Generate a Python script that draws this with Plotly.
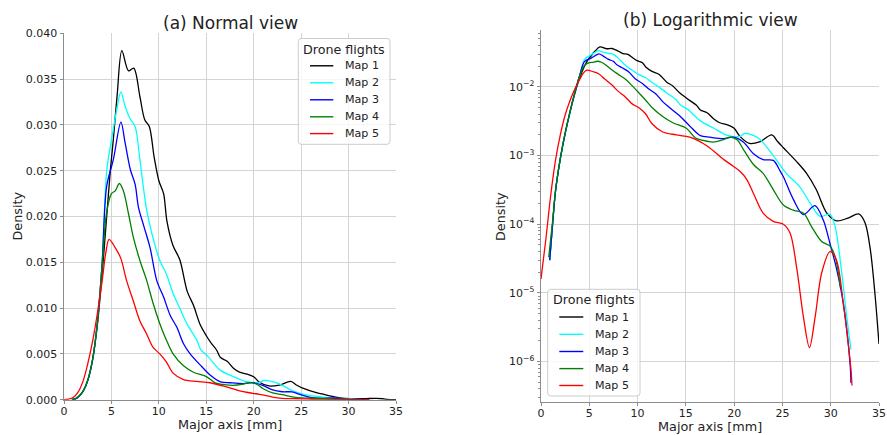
import plotly.graph_objects as go

# ---------------- data ----------------
map_names = ["Map 1", "Map 2", "Map 3", "Map 4", "Map 5"]
map_colors = ["#000000", "#00ffff", "#0000ff", "#008000", "#ff0000"]
legend_title = "Drone flights"

x_map1 = [0.9, 1.2, 1.5, 2.0, 2.5, 3.0, 3.5, 4.0, 4.5, 4.9, 5.2, 5.6, 6.1, 6.8, 7.35, 8.0, 8.5, 9.0, 9.5, 10.0,
          10.5, 10.85, 11.5, 12.2, 13.0, 13.65, 14.35, 15.05, 15.5, 16.1, 16.5, 17.2, 17.9, 18.5, 19.3, 20.0, 20.6,
          21.6, 22.7, 23.9, 24.5, 25.1, 26.6, 27.5, 28.5, 29.6, 30.6, 31.8, 32.9, 33.55, 34.1, 34.6, 35.0]
d_map1 = [3.0e-5, 1.0e-4, 3.0e-4, 9.0e-4, 2.1e-3, 4.3e-3, 8.0e-3, 0.0135, 0.0200, 0.0252, 0.0284, 0.0332, 0.0381,
          0.0359, 0.0362, 0.0331, 0.0306, 0.0298, 0.0265, 0.0239, 0.0225, 0.0195, 0.0168, 0.0153, 0.0118, 0.0103,
          0.0082, 0.0069, 0.0062, 0.0054, 0.0046, 0.0042, 0.0034, 0.0030, 0.0028, 0.0025, 0.0019, 0.0015, 0.0016,
          0.0020, 0.0016, 0.0013, 7.8e-4, 5.5e-4, 3.2e-4, 1.45e-4, 1.12e-4, 1.23e-4, 1.41e-4, 1.05e-4, 4.3e-5,
          9e-6, 1.8e-6]

x_map2 = [0.9, 1.2, 1.5, 2.0, 2.5, 3.0, 3.5, 4.0, 4.5, 5.0, 5.55, 6.0, 6.45, 6.95, 7.5, 8.0, 8.7, 9.4, 10.1, 10.8,
          11.5, 12.2, 12.95, 14.0, 14.4, 15.2, 16.5, 17.9, 19.3, 20.6, 21.1, 22.5, 24.05, 25.4, 26.8, 27.9, 28.9,
          29.9, 30.45, 31.1, 31.65, 32.1]
d_map2 = [3.0e-5, 1.0e-4, 3.0e-4, 9.0e-4, 2.1e-3, 4.3e-3, 8.2e-3, 0.0145, 0.0250, 0.0283, 0.0316, 0.0336, 0.0320,
          0.0307, 0.0298, 0.0262, 0.0208, 0.0176, 0.0152, 0.0137, 0.0116, 0.0100, 0.0083, 0.0065, 0.0055, 0.0047,
          0.0032, 0.0025, 0.00196, 0.0019, 0.0021, 0.0018, 0.0010, 5.5e-4, 3.5e-4, 2.0e-4, 1.3e-4, 1.4e-4, 9.3e-5,
          2.2e-5, 4.6e-6, 1.5e-6]

x_map3 = [0.9, 1.2, 1.5, 2.0, 2.5, 3.0, 3.5, 4.0, 4.5, 5.2, 6.0, 6.45, 7.0, 7.5, 7.85, 8.4, 9.07, 9.78, 10.5, 11.2,
          11.9, 12.6, 13.3, 14.35, 15.4, 16.5, 17.5, 18.9, 19.9, 20.95, 22.0, 23.0, 24.05, 24.75, 25.1, 26.13,
          27.16, 28.37, 29.23, 29.93, 30.62, 31.3, 32.0, 32.1]
d_map3 = [3.0e-5, 1.0e-4, 3.0e-4, 9.0e-4, 2.1e-3, 4.3e-3, 8.2e-3, 0.0145, 0.0233, 0.0262, 0.0303, 0.0280, 0.0251,
          0.0235, 0.0210, 0.0190, 0.0166, 0.0130, 0.0112, 0.0092, 0.0079, 0.0061, 0.0050, 0.0038, 0.0027, 0.00195,
          0.00185, 0.00176, 0.00185, 0.00157, 0.00106, 8.7e-4, 8.5e-4, 6.0e-4, 4.9e-4, 2.3e-4, 1.38e-4, 1.86e-4,
          1.15e-4, 5.2e-5, 2.2e-5, 7.1e-6, 9.5e-7, 4.9e-7]

x_map4 = [0.8, 1.2, 1.5, 2.0, 2.5, 3.0, 3.5, 4.0, 4.5, 5.0, 5.4, 5.84, 6.26, 6.8, 7.32, 8.0, 8.72, 9.4, 10.1, 10.8,
          11.5, 12.6, 13.65, 15.05, 16.0, 16.8, 17.8, 18.9, 19.6, 20.3, 21.0, 22.0, 23.0, 24.05, 25.1, 26.1, 27.2,
          28.0, 29.06, 29.93, 30.45, 31.0]
d_map4 = [3.3e-5, 1.1e-4, 3.1e-4, 9.0e-4, 2.1e-3, 4.3e-3, 8.2e-3, 0.0145, 0.0205, 0.0225, 0.0228, 0.0236, 0.0228,
          0.0203, 0.0177, 0.0152, 0.0130, 0.0105, 0.0083, 0.0065, 0.0050, 0.0037, 0.0030, 0.0025, 0.0018, 0.00166,
          0.00157, 0.0017, 0.00186, 0.0017, 0.0012, 7.4e-4, 5.5e-4, 3.2e-4, 1.9e-4, 1.6e-4, 1.45e-4, 9.3e-5, 5.6e-5,
          4.8e-5, 3.4e-5, 1.2e-5]

x_map5 = [0.0, 0.5, 1.0, 1.5, 2.0, 2.5, 3.0, 3.5, 4.0, 4.4, 4.75, 5.4, 6.0, 6.6, 7.3, 8.0, 8.7, 9.4, 10.1, 10.8,
          11.5, 12.6, 14.0, 15.4, 17.2, 18.9, 19.9, 20.6, 21.3, 22.0, 23.0, 24.05, 25.1, 25.8, 26.5, 27.16, 27.8,
          28.4, 29.06, 29.93, 30.6, 31.3, 31.8, 32.1, 32.2]
d_map5 = [1.6e-5, 6.0e-5, 2.6e-4, 8.5e-4, 2.0e-3, 3.9e-3, 6.3e-3, 9.3e-3, 0.0128, 0.0160, 0.0175, 0.0166, 0.0154,
          0.0130, 0.0108, 0.0086, 0.0072, 0.0057, 0.0050, 0.0041, 0.0029, 0.0022, 0.0020, 0.00185, 0.00138, 0.00088,
          0.00070, 0.00059, 0.00045, 2.8e-4, 1.45e-4, 1.1e-4, 1.0e-4, 7.4e-5, 2.2e-5, 4.6e-6, 1.6e-6, 4.6e-6,
          1.95e-5, 4.0e-5, 3.0e-5, 7.1e-6, 1.9e-6, 7.6e-7, 4.5e-7]

x_series = [x_map1, x_map2, x_map3, x_map4, x_map5]
d_series = [d_map1, d_map2, d_map3, d_map4, d_map5]

x_ticks = [0, 5, 10, 15, 20, 25, 30, 35]
lin_y_ticks = [0.0, 0.005, 0.010, 0.015, 0.020, 0.025, 0.030, 0.035, 0.040]
log_y_ticks = [1e-6, 1e-5, 1e-4, 1e-3, 1e-2]
log_y_ticktext = ["10<sup>\u22126</sup>", "10<sup>\u22125</sup>", "10<sup>\u22124</sup>",
                  "10<sup>\u22123</sup>", "10<sup>\u22122</sup>"]

# ---------------- figure ----------------
W, H = 887, 435
FONT = "DejaVu Sans"
TXT = "#222222"
fig = go.Figure()


def fx(px):
    return px / W


def fy(py):
    return 1 - py / H


for name, col, xs, ds in zip(map_names, map_colors, x_series, d_series):
    for xa, ya in (("x", "y"), ("x2", "y2")):
        fig.add_trace(go.Scatter(x=xs, y=ds, mode="lines", name=name, showlegend=False,
                                 line=dict(color=col, width=1.3, shape="spline", smoothing=0.9),
                                 xaxis=xa, yaxis=ya))

axis_common = dict(showline=True, linecolor="#8c8c8c", linewidth=1, mirror=False,
                   ticks="outside", ticklen=3.5, tickwidth=1, tickcolor="#8c8c8c",
                   showgrid=True, gridcolor="#d4d4d4", gridwidth=1, zeroline=False,
                   tickfont=dict(family=FONT, size=11, color=TXT))

fig.update_layout(
    width=W, height=H,
    margin=dict(l=0, r=0, t=0, b=0, autoexpand=False),
    paper_bgcolor="white", plot_bgcolor="white",
    font=dict(family=FONT, color=TXT),
    showlegend=False,
    xaxis=dict(domain=[fx(64), fx(396)], range=[0, 35], tickvals=x_ticks, anchor="y",
               ticklabelstandoff=-2, **axis_common),
    yaxis=dict(domain=[fy(399.7), fy(33.3)], range=[0, 0.040], tickvals=lin_y_ticks,
               tickformat=".3f", anchor="x", **axis_common),
    xaxis2=dict(domain=[fx(541), fx(879)], range=[0, 35], tickvals=x_ticks, anchor="y2",
                ticklabelstandoff=-2, **axis_common),
    yaxis2=dict(domain=[fy(401.7), fy(30)], type="log", range=[-6.584, -1.172],
                tickvals=log_y_ticks, ticktext=log_y_ticktext, anchor="x2",
                minor=dict(ticks="outside", ticklen=2, tickcolor="#8c8c8c", showgrid=False,
                           tickvals=[k * 10.0 ** e for e in range(-7, -1) for k in range(2, 10)]),
                **axis_common),
)

ann_font = dict(family=FONT, size=12.8, color=TXT)
title_font = dict(family=FONT, size=17, color=TXT)
annotations = [
    dict(text="(a) Normal view", x=fx(230), y=fy(23), font=title_font),
    dict(text="(b) Logarithmic view", x=fx(710), y=fy(20), font=title_font),
    dict(text="Major axis [mm]", x=fx(230), y=fy(424.8), font=ann_font, borderpad=0),
    dict(text="Major axis [mm]", x=fx(710), y=fy(426.8), font=ann_font, borderpad=0),
    dict(text="Density", x=fx(17), y=fy(216.5), font=ann_font, textangle=-90),
    dict(text="Density", x=fx(500), y=fy(216), font=ann_font, textangle=-90),
]


def rounded_box(x0, y0, x1, y1, r):
    # path in paper units with small rounded corners (r in pixels)
    rx, ry = r / W, r / H
    X0, X1 = fx(x0), fx(x1)
    Y0, Y1 = fy(y1), fy(y0)  # bottom, top
    return (f"M {X0 + rx},{Y0} L {X1 - rx},{Y0} Q {X1},{Y0} {X1},{Y0 + ry} "
            f"L {X1},{Y1 - ry} Q {X1},{Y1} {X1 - rx},{Y1} L {X0 + rx},{Y1} "
            f"Q {X0},{Y1} {X0},{Y1 - ry} L {X0},{Y0 + ry} Q {X0},{Y0} {X0 + rx},{Y0} Z")


# manual legends (matplotlib-like compact layout)
legend_boxes = [
    dict(box=(298.3, 38.5, 390, 144.3), title_xy=(344.2, 49.3), line_x=(310, 333.3), label_x=342.7,
         rows=[65.8, 82.8, 99.8, 116.8, 133.6]),
    dict(box=(547.7, 289.3, 640, 396), title_xy=(594, 299.8), line_x=(559.3, 583.3), label_x=592.7,
         rows=[317, 334.3, 351.5, 368.6, 385.5]),
]
for lg in legend_boxes:
    bx0, by0, bx1, by1 = lg["box"]
    fig.add_shape(type="path", xref="paper", yref="paper", path=rounded_box(bx0, by0, bx1, by1, 3),
                  line=dict(color="#cccccc", width=1), fillcolor="rgba(255,255,255,0.8)", layer="above")
    annotations.append(dict(text=legend_title, x=fx(lg["title_xy"][0]), y=fy(lg["title_xy"][1]),
                            font=dict(family=FONT, size=12.7, color=TXT)))
    for name, col, ry in zip(map_names, map_colors, lg["rows"]):
        fig.add_shape(type="line", xref="paper", yref="paper",
                      x0=fx(lg["line_x"][0]), x1=fx(lg["line_x"][1]), y0=fy(ry), y1=fy(ry),
                      line=dict(color=col, width=1.4), layer="above")
        annotations.append(dict(text=name, x=fx(lg["label_x"]), y=fy(ry), xanchor="left",
                                font=dict(family=FONT, size=11.1, color=TXT)))

for a in annotations:
    a.setdefault("xanchor", "center")
    fig.add_annotation(xref="paper", yref="paper", yanchor="middle", showarrow=False, **a)

fig.write_html("out.html", post_script="document.body.style.margin='0px';")
